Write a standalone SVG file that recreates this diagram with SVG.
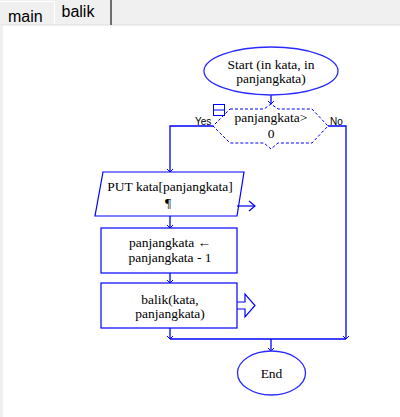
<svg xmlns="http://www.w3.org/2000/svg" width="400" height="417" viewBox="0 0 400 417">
<defs>
<marker id="ah" markerUnits="userSpaceOnUse" markerWidth="8" markerHeight="8" viewBox="-4 -4 8 8" refX="0" refY="0" orient="auto">
<path d="M-3,-3 L0,0 L-3,3" fill="none" stroke="#0000ff" stroke-width="1"/>
</marker>
</defs>
<style>
.shape{fill:#ffffff;stroke:#0000ff;stroke-width:1.2}
.term{fill:#ffffff;stroke:#2a2aff;stroke-width:1.3}
.dash{fill:#ffffff;stroke:#0000ff;stroke-width:1;stroke-dasharray:3,2}
.con{fill:none;stroke:#0000ff;stroke-width:1.3}
.t{font-family:"Liberation Serif","Times New Roman",serif;font-size:13.5px;fill:#000;text-anchor:middle}
.lbl{font-family:"Liberation Sans",Arial,sans-serif;font-size:10px;fill:#000}
.tab{font-family:"Liberation Sans",Arial,sans-serif;font-size:16px;fill:#000}
</style>
<rect x="0" y="0" width="400" height="417" fill="#f0f0f0"/>
<rect x="3" y="26" width="397" height="391" fill="#ffffff"/>
<g id="tabs">
<polyline points="0,1.5 54.5,1.5 54.5,24" fill="none" stroke="#ffffff" stroke-width="1"/>
<line x1="0" y1="24.5" x2="400" y2="24.5" stroke="#e6e6e6" stroke-width="1"/>
<line x1="111" y1="0" x2="111" y2="25" stroke="#6e6e6e" stroke-width="2"/>
<text class="tab" x="8" y="22">main</text>
<text class="tab" x="61.5" y="17">balik</text>
</g>
<g id="connectors">
<line class="con" x1="271" y1="95" x2="271" y2="104" marker-end="url(#ah)"/>
<polyline class="con" points="213,126 170,126 170,172" marker-end="url(#ah)"/>
<line class="con" x1="170" y1="216" x2="170" y2="228" marker-end="url(#ah)"/>
<line class="con" x1="170" y1="273" x2="170" y2="283" marker-end="url(#ah)"/>
<line class="con" x1="170" y1="328" x2="170" y2="339" marker-end="url(#ah)"/>
<polyline class="con" points="328,126 346,126 346,339" marker-end="url(#ah)"/>
<line class="con" x1="170" y1="339" x2="346" y2="339"/>
<line class="con" x1="271" y1="339" x2="271" y2="351" marker-end="url(#ah)"/>
<text class="lbl" x="195" y="125">Yes</text>
<text class="lbl" x="330" y="125">No</text>
</g>
<g id="start">
<ellipse class="term" cx="271" cy="71" rx="67" ry="24"/>
<text class="t" x="271" y="69">Start (in kata, in</text>
<text class="t" x="271" y="83">panjangkata)</text>
</g>
<g id="decision">
<path class="dash" d="M230,109 L264,109 L271,104 L278,109 L312,109 L328,126 L312,143 L278,143 L271,149 L264,143 L230,143 L213,126 Z"/>
<rect x="213.5" y="104.5" width="11" height="11" fill="#ffffff" stroke="#0000ff" stroke-width="1"/>
<line x1="213.5" y1="110" x2="224.5" y2="110" stroke="#0000ff" stroke-width="1"/>
<text class="t" x="271" y="122">panjangkata&gt;</text>
<text class="t" x="271" y="137.5">0</text>
</g>
<g id="output">
<polygon class="shape" points="103,172 244,172 237,216 95,216"/>
<line x1="237" y1="206" x2="255" y2="206" stroke="#0000ff" stroke-width="1.2"/>
<polyline points="249,201 255,206 249,211" fill="none" stroke="#0000ff" stroke-width="1.2"/>
<text class="t" x="170" y="191">PUT kata[panjangkata]</text>
<text class="t" x="168" y="207">¶</text>
</g>
<g id="assign">
<rect class="shape" x="101" y="228" width="136" height="45"/>
<text class="t" x="170" y="247">panjangkata ←</text>
<text class="t" x="170" y="262">panjangkata - 1</text>
</g>
<g id="call">
<rect class="shape" x="101" y="283" width="136" height="45"/>
<polyline points="237,302 245,302 245,294 255,305.5 245,317 245,309 237,309" fill="none" stroke="#0000ff" stroke-width="1.2"/>
<text class="t" x="170" y="304">balik(kata,</text>
<text class="t" x="170" y="318">panjangkata)</text>
</g>
<g id="end">
<ellipse class="term" cx="271.5" cy="373" rx="34" ry="22"/>
<text class="t" x="271.5" y="378">End</text>
</g>
</svg>
